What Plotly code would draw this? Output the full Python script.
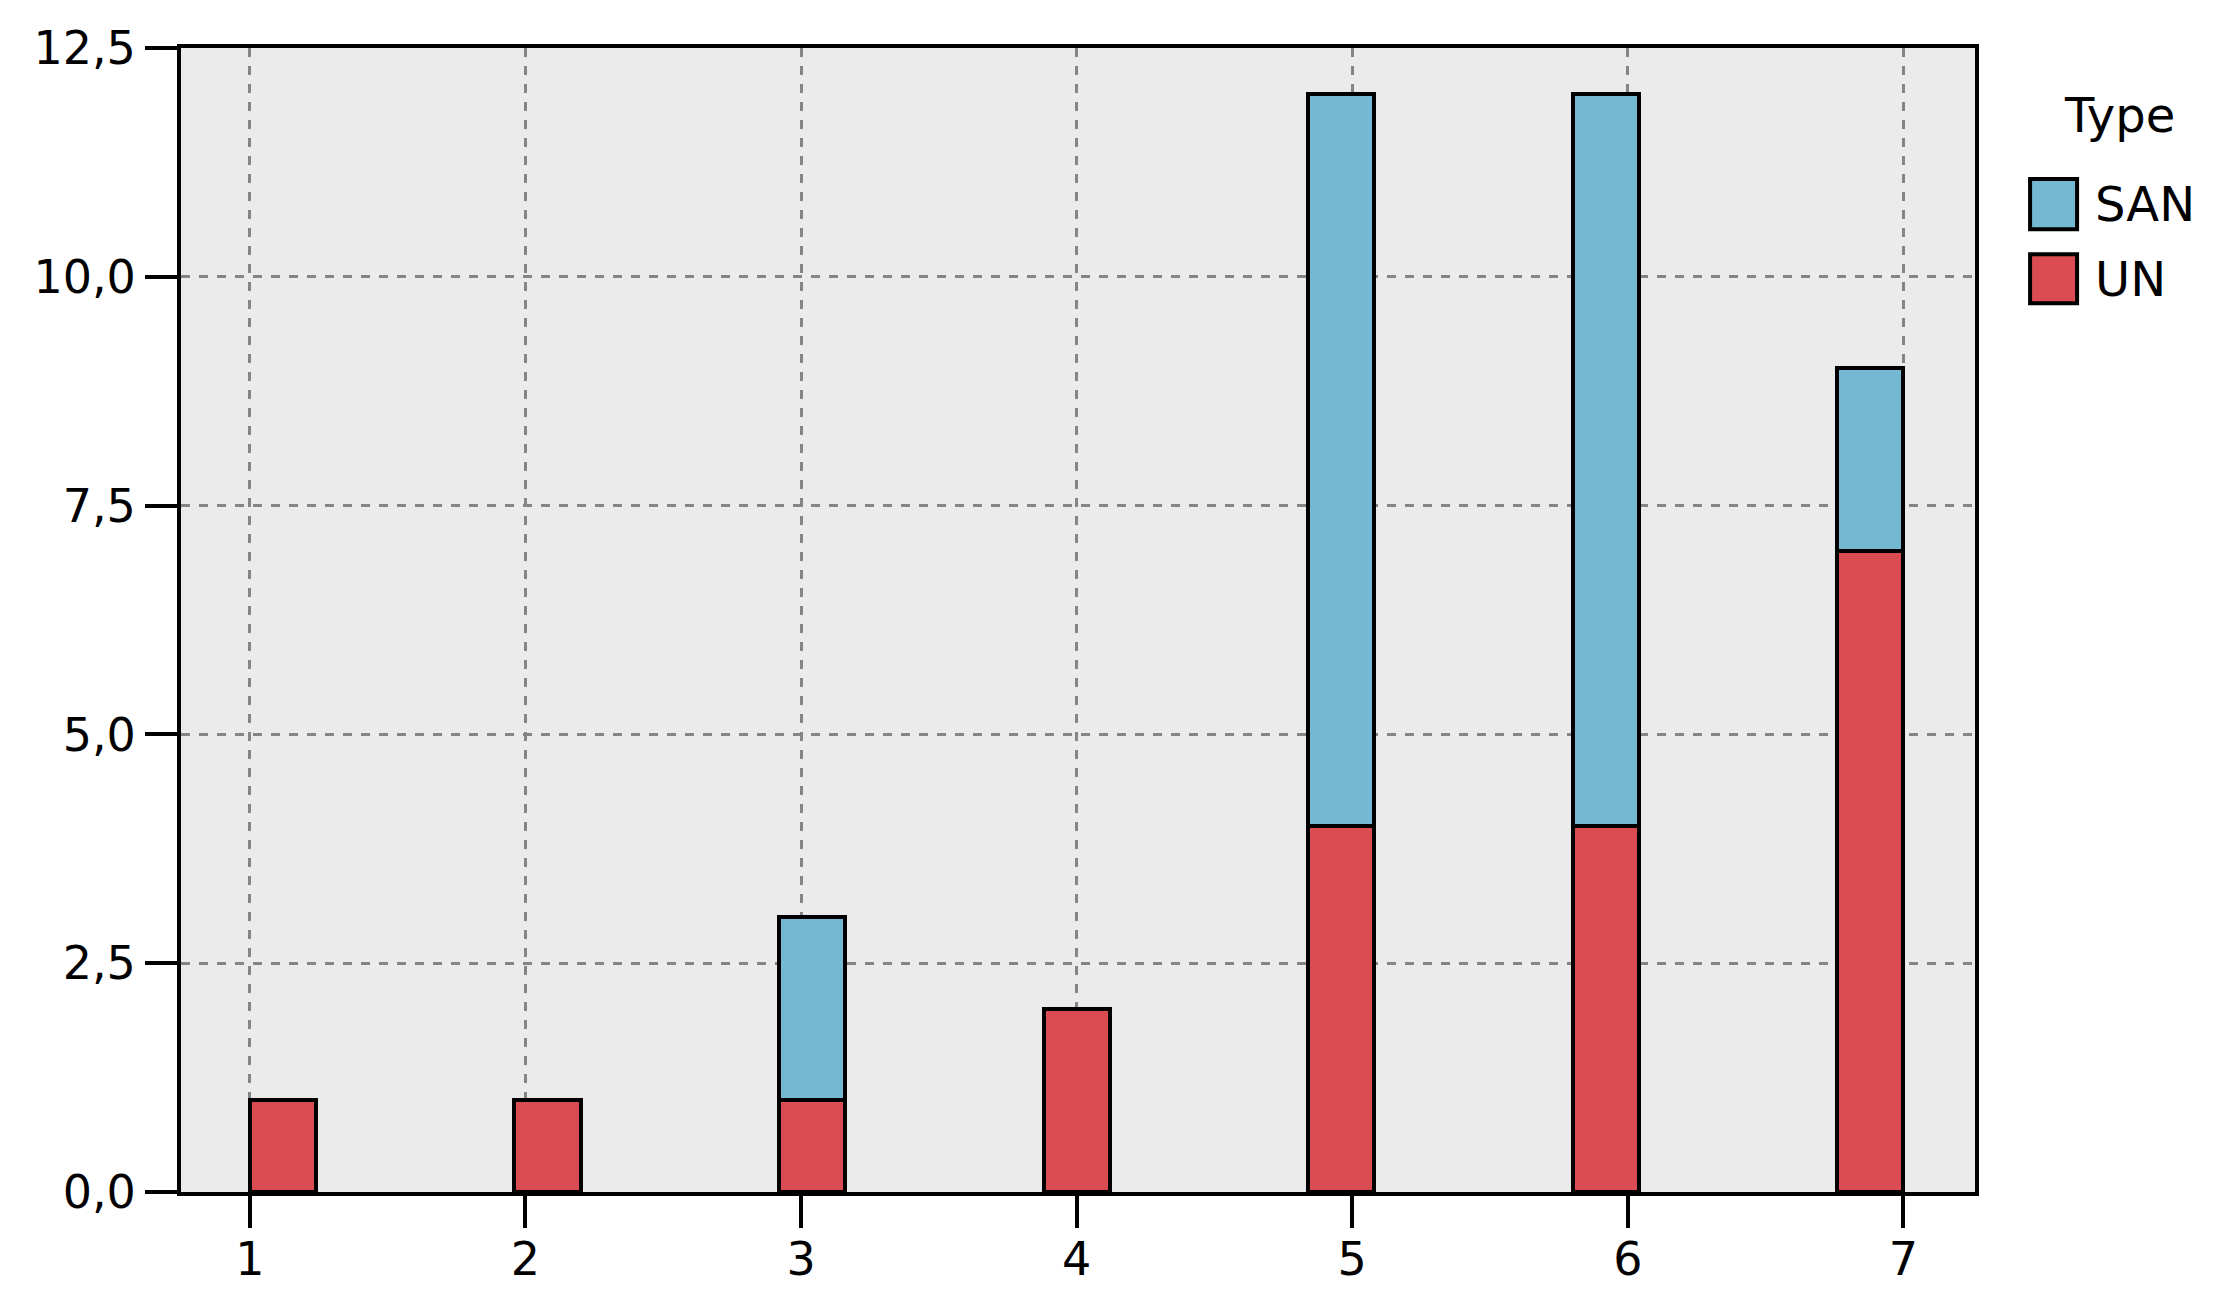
import plotly.graph_objects as go

# 資料
categories = [1, 2, 3, 4, 5, 6, 7]
un_counts = [1, 1, 1, 2, 4, 4, 7]
san_counts = [0, 0, 2, 0, 8, 8, 2]
y_ticks = [0, 2.5, 5, 7.5, 10, 12.5]

SAN_COLOR = '#74B8D4'
UN_COLOR = '#DA4C52'
FONT = 'DejaVu Sans'

# SPSS style: bars spread so the first starts at 1 and the last ends at 7
BAR_W = 0.24
bar_x = [c + BAR_W / 2 - (c - 1) * BAR_W / 6 for c in categories]

fig = go.Figure()

fig.add_trace(go.Bar(
    x=bar_x, y=un_counts, width=BAR_W, name='UN',
    marker=dict(color=UN_COLOR, line=dict(color='black', width=4)),
    showlegend=False
))
fig.add_trace(go.Bar(
    x=bar_x, y=[v if v > 0 else None for v in san_counts], width=BAR_W, name='SAN',
    marker=dict(color=SAN_COLOR, line=dict(color='black', width=4)),
    showlegend=False
))

# 頁面 body 有 8px 邊距，故圖尺寸縮小 16px
fig.update_layout(
    barmode='stack',
    width=2215, height=1290,
    margin=dict(l=173, r=248, t=40, b=103),
    plot_bgcolor='#EBEBEB',
    paper_bgcolor='white',
    separators=',.',
    font=dict(family=FONT, size=46, color='black'),
)

fig.update_xaxes(
    range=[0.75, 7.26],
    tickvals=categories, ticktext=[str(c) for c in categories],
    ticks='outside', ticklen=32, tickwidth=4, tickcolor='black',
    ticklabelstandoff=-8,
    showline=True, linecolor='black', linewidth=4, mirror=True,
    showgrid=True, gridcolor='#858585', gridwidth=3, griddash='dash',
    zeroline=False,
)
fig.update_yaxes(
    range=[0, 12.5],
    tickvals=y_ticks, tickformat='.1f',
    ticks='outside', ticklen=32, tickwidth=4, tickcolor='black',
    showline=True, linecolor='black', linewidth=4, mirror=True,
    showgrid=True, gridcolor='#858585', gridwidth=3, griddash='dash',
    zeroline=False,
)

# 圖例（手動繪製，方塊較大）
legend_items = [('SAN', SAN_COLOR, 0.8854, 0.8416), ('UN', UN_COLOR, 0.8198, 0.7769)]
for label, color, y1, y0 in legend_items:
    fig.add_shape(type='rect', xref='paper', yref='paper',
                  x0=1.0307, x1=1.0569, y0=y0, y1=y1,
                  fillcolor=color, line=dict(color='black', width=4))
    fig.add_annotation(xref='paper', yref='paper', x=1.0655, y=(y0 + y1) / 2,
                       text=label, showarrow=False, xanchor='left', yanchor='middle',
                       font=dict(family=FONT, size=48, color='black'))
fig.add_annotation(xref='paper', yref='paper', x=1.0808, y=0.9414,
                   text='Type', showarrow=False, xanchor='center', yanchor='middle',
                   font=dict(family=FONT, size=48, color='black'))

fig.write_html('out.html')
